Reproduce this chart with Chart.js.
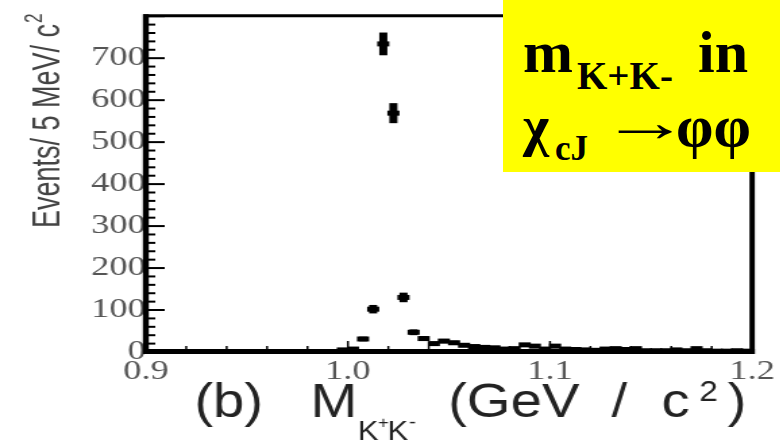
<!DOCTYPE html>
<html>
<head>
<meta charset="utf-8">
<script src="https://cdn.jsdelivr.net/npm/chart.js@4"></script>
<style>
  html, body { margin: 0; padding: 0; background: #fff; }
  #wrap { position: relative; width: 780px; height: 442px; overflow: hidden; }
  /* the plot is drawn narrow and stretched sideways */
  #plot { position: absolute; left: 0; top: 0; transform-origin: 0 0; transform: scaleX(1.35); }
  #label {
    position: absolute; left: 503px; top: 0; width: 277px; height: 172px;
    background: #ffff00; color: #000;
    font-family: "Liberation Serif", "Times New Roman", serif; font-weight: bold;
  }
  #label span { position: absolute; line-height: 1; white-space: nowrap; }
  #arrow { transform-origin: 0 50%; transform: scaleX(1.6); }
</style>
</head>
<body>
<div id="wrap">
  <canvas id="plot" width="578" height="442" style="width:578px;height:442px"></canvas>
  <div id="label">
    <span style="left:20px;top:22px;font-size:60px">m</span>
    <span style="left:74px;top:56px;font-size:39px">K+K-</span>
    <span style="left:195px;top:22px;font-size:60px">in</span>
    <span style="left:20px;top:98px;font-size:56px">χ</span>
    <span style="left:52px;top:131px;font-size:35px">cJ</span>
    <span id="arrow" style="left:97px;top:94px;font-size:56px">→</span>
    <span style="left:173px;top:96px;font-size:60px">φφ</span>
  </div>
</div>
<script>
// K+K- invariant mass, 5 MeV bins (bin centres in GeV/c^2)
const massBins = [
  0.9975, 1.0025, 1.0075, 1.0125, 1.0175, 1.0225, 1.0275, 1.0325, 1.0375, 1.0425,
  1.0475, 1.0525, 1.0575, 1.0625, 1.0675, 1.0725, 1.0775, 1.0825, 1.0875, 1.0925,
  1.0975, 1.1025, 1.1075, 1.1125, 1.1175, 1.1225, 1.1275, 1.1325, 1.1375, 1.1425,
  1.1475, 1.1525, 1.1575, 1.1625, 1.1675, 1.1725, 1.1775, 1.1825, 1.1875, 1.1925,
  1.1975
];
const counts = [
  5, 7, 31, 102, 734, 569, 130, 47, 32, 20,
  26, 22, 16, 13, 11, 10, 7, 8, 17, 14,
  7, 14, 7, 6, 5, 4, 7, 8, 6, 8,
  3, 3, 3, 5, 3, 8, 3, 2, 2, 3,
  2
];
const xTicks = [0.9, 1.0, 1.1, 1.2];
const yTicks = [0, 100, 200, 300, 400, 500, 600, 700];

const HALF_BIN = 0.003;
const SANS = '"Liberation Sans", Arial, sans-serif';
const SERIF = '"Liberation Serif", "Times New Roman", serif';

function line(ctx, x1, y1, x2, y2) {
  ctx.beginPath();
  ctx.moveTo(x1, y1);
  ctx.lineTo(x2, y2);
  ctx.stroke();
}

function text(ctx, str, x, y, size, sx) {
  ctx.save();
  ctx.translate(x, y);
  ctx.scale(sx, 1);
  ctx.font = size + 'px ' + SANS;
  ctx.textBaseline = 'alphabetic';
  ctx.textAlign = 'left';
  ctx.fillText(str, 0, 0);
  ctx.restore();
}

const histPlugin = {
  id: 'hist',
  afterDatasetsDraw(chart) {
    const ctx = chart.ctx, xs = chart.scales.x, ys = chart.scales.y;
    ctx.save();
    ctx.strokeStyle = '#000';
    ctx.lineCap = 'butt';
    massBins.forEach((m, i) => {
      const n = counts[i], err = Math.sqrt(n);
      const px = xs.getPixelForValue(m), py = ys.getPixelForValue(n);
      ctx.lineWidth = 5;
      line(ctx, xs.getPixelForValue(m - HALF_BIN), py, xs.getPixelForValue(m + HALF_BIN), py);
      ctx.lineWidth = 6;
      line(ctx, px, ys.getPixelForValue(n + err), px, ys.getPixelForValue(Math.max(0, n - err)));
    });
    ctx.restore();
  },
  afterDraw(chart) {
    const ctx = chart.ctx, xs = chart.scales.x, ys = chart.scales.y;
    const a = chart.chartArea;
    ctx.save();
    ctx.strokeStyle = '#000';

    // inward ticks
    ctx.lineWidth = 1.5;
    for (let k = 0; k <= 15; k++) {
      const px = xs.getPixelForValue(0.9 + k * 0.02);
      line(ctx, px, a.bottom - 2, px, a.bottom - 2 - (k % 5 === 0 ? 9 : 4));
    }
    ctx.lineWidth = 2;
    for (let k = 0; k <= 40; k++) {
      const py = ys.getPixelForValue(k * 20);
      line(ctx, a.left + 2, py, a.left + 2 + (k % 5 === 0 ? 12 : 5), py);
    }

    // frame
    ctx.lineWidth = 4.4;
    line(ctx, a.left, a.top - 2, a.left, a.bottom + 2);
    ctx.lineWidth = 5;
    line(ctx, a.left - 2, a.bottom - 0.5, a.right + 2, a.bottom - 0.5);
    ctx.lineWidth = 3;
    line(ctx, a.left - 2, a.top - 0.5, a.right + 2, a.top - 0.5);
    ctx.lineWidth = 4;
    line(ctx, a.right, a.top - 2, a.right, a.bottom + 2);

    // y axis title, condensed and rotated
    ctx.fillStyle = '#444';
    ctx.save();
    ctx.translate(44, 228);
    ctx.rotate(-Math.PI / 2);
    ctx.scale(0.9, 1);
    ctx.font = '30px ' + SANS;
    const main = 'Events/ 5 MeV/ c';
    ctx.fillText(main, 0, 0);
    const w = ctx.measureText(main).width;
    ctx.font = '19px ' + SANS;
    ctx.fillText('2', w + 1, -13);
    ctx.restore();

    // x axis title
    ctx.fillStyle = '#222';
    const sx = 0.85;
    text(ctx, '(b)', 144, 417, 49, sx);
    text(ctx, 'M', 230, 417, 49, sx);
    text(ctx, 'K', 265, 440, 27, sx);
    text(ctx, '+', 280, 428, 16, sx);
    text(ctx, 'K', 287, 440, 27, sx);
    text(ctx, '-', 303, 428, 18, sx);
    text(ctx, '(GeV', 332, 417, 49, sx);
    text(ctx, '/', 453, 417, 49, sx);
    text(ctx, 'c', 490, 417, 49, sx);
    text(ctx, '2', 518, 401, 29, sx);
    text(ctx, ')', 539, 417, 49, sx);
    ctx.restore();
  }
};

new Chart(document.getElementById('plot'), {
  type: 'scatter',
  data: {
    datasets: [{
      data: massBins.map((m, i) => ({ x: m, y: counts[i] })),
      pointRadius: 0,
      showLine: false
    }]
  },
  options: {
    responsive: false,
    animation: false,
    layout: { padding: { top: 12, right: 15, left: 0, bottom: 0 } },
    plugins: { legend: { display: false }, tooltip: { enabled: false } },
    scales: {
      x: {
        type: 'linear',
        min: 0.9,
        max: 1.2,
        afterBuildTicks: s => { s.ticks = xTicks.map(v => ({ value: v })); },
        afterFit: s => { s.height = 90; },
        grid: { display: false, drawTicks: false },
        border: { display: false },
        ticks: {
          font: { family: SERIF, size: 27 },
          color: '#555',
          padding: 4,
          maxRotation: 0,
          autoSkip: false,
          callback: v => v.toFixed(1)
        }
      },
      y: {
        min: 0,
        max: 800,
        afterBuildTicks: s => { s.ticks = yTicks.map(v => ({ value: v })); },
        afterFit: s => { s.width = 108; },
        grid: { display: false, drawTicks: false },
        border: { display: false },
        ticks: {
          font: { family: SERIF, size: 27 },
          color: '#555',
          padding: 0,
          autoSkip: false
        }
      }
    }
  },
  plugins: [histPlugin]
});
</script>
</body>
</html>
